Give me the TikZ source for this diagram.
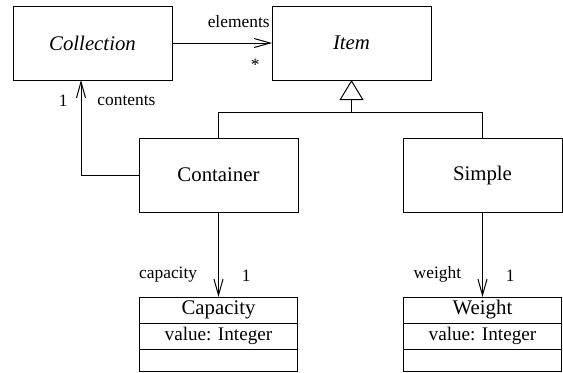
\documentclass[tikz,border=0pt]{standalone}
\usepackage{fontspec}
\setmainfont{LiberationSerif}[Extension=.ttf,UprightFont=*-Regular,ItalicFont=*-Italic,BoldFont=*-Bold,BoldItalicFont=*-BoldItalic]
\usetikzlibrary{arrows.meta,positioning}

\begin{document}
\begin{tikzpicture}[
  x=0.5pt,y=-0.5pt,
  cls/.style={draw,line width=0.5pt,outer sep=0pt,inner sep=0pt,minimum width=79.5pt,minimum height=37pt,font=\fontsize{10.4}{12}\selectfont},
  part/.style={draw,line width=0.5pt,outer sep=0pt,inner sep=0pt,minimum width=79pt,minimum height=13pt,font=\fontsize{9.6}{11}\selectfont},
  assoc/.style={line width=0.5pt,-{Straight Barb[length=8pt,width=4.5pt]}},
  gen/.style={line width=0.5pt,-{Triangle[open,length=10pt,width=12pt]}},
  lbl/.style={font=\fontsize{8.7}{10}\selectfont,inner sep=1pt}
]
  \useasboundingbox (0,0) rectangle (563,372);

  % classes
  \node[cls] (coll) at (92.5,43) {\textit{Collection}};
  \node[cls,right=50pt of coll] (item) {\textit{Item}};
  \node[cls,below right=29pt and -16.5pt of coll] (cont) {Container};
  \node[cls,right=52.5pt of cont] (simp) {Simple};

  % attribute classes
  \node[part,below=42.5pt of cont,font=\fontsize{10.4}{12}\selectfont] (capHead) {Capacity};
  \node[part,below=0pt of capHead] (capAttr) {value: Integer};
  \node[part,below=0pt of capAttr,minimum height=11pt] (capOps) {};
  \node[part,below=42.5pt of simp,font=\fontsize{10.4}{12}\selectfont] (wHead) {Weight};
  \node[part,below=0pt of wHead] (wAttr) {value: Integer};
  \node[part,below=0pt of wAttr,minimum height=11pt] (wOps) {};

  % generalisation
  \coordinate[below=16pt of item] (join);
  \draw[line width=0.5pt] (cont.north) |- (join) -| (simp.north);
  \draw[gen] (join) -- (item.south);

  % associations
  \draw[assoc] (coll) -- (item);
  \node[lbl,above left=6.5pt and 0pt of item.west] (elemName) {elements};
  \node[lbl,below left=7pt and 5pt of item.west] (elemMult) {*};

  \coordinate[left=29pt of cont.west] (bend);
  \coordinate (contEnd) at (bend |- coll.south);
  \draw[assoc] (cont.west) -- (bend) -- (contEnd);
  \node[lbl,below left=6.5pt and 5.5pt of contEnd] (contMult) {1};
  \node[lbl,below right=6.5pt and 7pt of contEnd] (contName) {contents};

  \draw[assoc] (cont) -- (capHead);
  \node[lbl,above left=6pt and 9.5pt of capHead.north] (capName) {capacity};
  \node[lbl,above right=6.5pt and 10.5pt of capHead.north] (capMult) {1};

  \draw[assoc] (simp) -- (wHead);
  \node[lbl,above left=6pt and 9.5pt of wHead.north] (wName) {weight};
  \node[lbl,above right=6.5pt and 10.5pt of wHead.north] (wMult) {1};
\end{tikzpicture}
\end{document}
